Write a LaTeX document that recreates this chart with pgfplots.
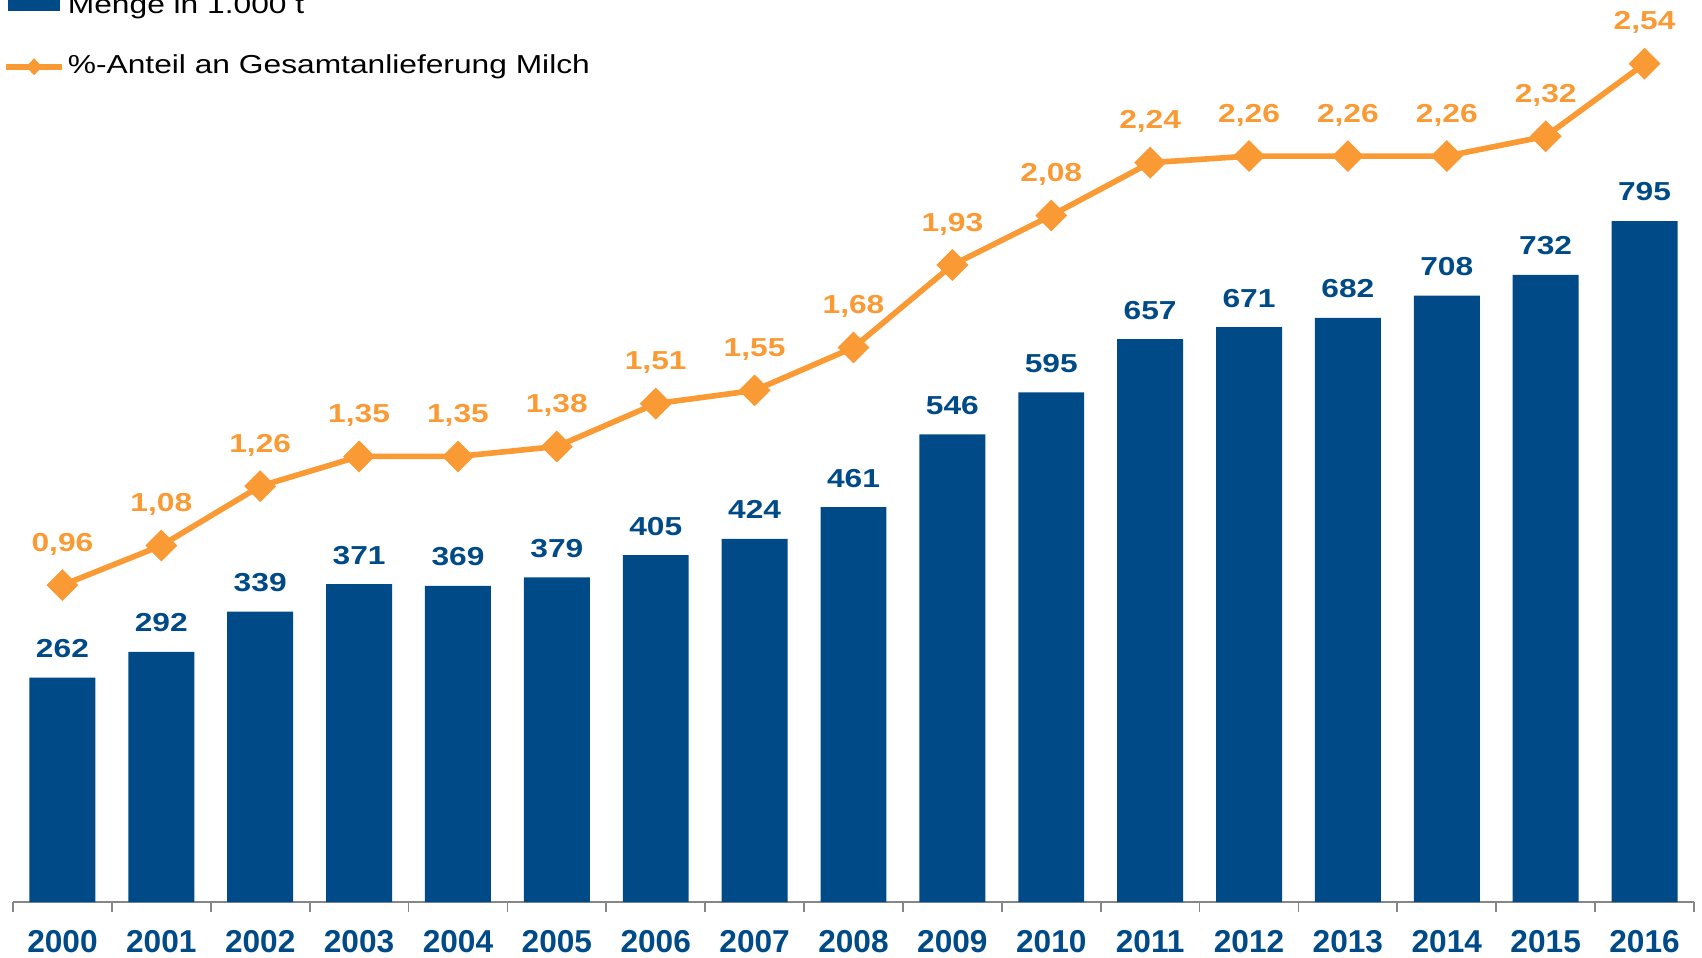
\documentclass[border=0pt]{standalone}
\usepackage{pgfplots}
\pgfplotsset{compat=1.18}
\usepackage{fontspec}
\setmainfont{Liberation Sans}
\newfontfamily\widesans[FakeStretch=1.22]{Liberation Sans}
\definecolor{mblue}{RGB}{0,75,135}
\definecolor{morange}{RGB}{249,154,52}
\definecolor{axgray}{RGB}{134,134,134}
\begin{document}
\begin{tikzpicture}
\begin{axis}[
  scale only axis, width=16.81cm, height=9.02cm,
  xmin=-0.5, xmax=16.5, ymin=0, ymax=1053,
  axis x line*=bottom, axis y line=none,
  x axis line style={draw=axgray, line width=0.5pt},
  xtick={0,1,2,3,4,5,6,7,8,9,10,11,12,13,14,15,16},
  xticklabels={2000,2001,2002,2003,2004,2005,2006,2007,2008,2009,2010,2011,2012,2013,2014,2015,2016},
  minor xtick={-0.5,0.5,1.5,2.5,3.5,4.5,5.5,6.5,7.5,8.5,9.5,10.5,11.5,12.5,13.5,14.5,15.5,16.5},
  major tick length=0pt, minor tick length=1mm,
  tick align=outside,
  major tick style={draw=none},
  minor tick style={draw=axgray, line width=0.5pt},
  xticklabel style={font=\bfseries\fontsize{9}{10}\selectfont, text=mblue, anchor=base, yshift=-14.4pt},
  ytick=\empty,
  clip=false,
  legend style={draw=none, fill=none, inner sep=0pt,
    at={(axis description cs:-0.0062,0.9096)}, anchor=south west,
    row sep=9.2pt, column sep=0.3mm,
    font=\widesans\fontsize{7.4}{9}\selectfont,
    nodes={inner sep=0pt, text height=6pt, text depth=2pt}},
  legend cell align=left,
]
\addplot[ybar, bar width=0.667, fill=mblue, draw=none,
  nodes near coords={\pgfmathprintnumber[assume math mode=true]{\pgfplotspointmeta}},
  every node near coord/.append style={font=\widesans\bfseries\fontsize{7.4}{9}\selectfont, text=mblue, anchor=base, yshift=5.7pt, inner sep=0pt},
  legend image code/.code={\fill[mblue] (0.2mm,-0.5mm) rectangle (5.4mm,2.5mm);}
] coordinates {
(0,262) (1,292) (2,339) (3,371) (4,369) (5,379) (6,405) (7,424) (8,461)
(9,546) (10,595) (11,657) (12,671) (13,682) (14,708) (15,732) (16,795)
};
\addlegendentry{Menge in 1.000 t}
\addlegendimage{legend image code/.code={
  \draw[morange, line width=1.6pt] (0mm,0mm) -- (5.6mm,0mm);
  \fill[morange] (2.8mm,0.75mm) -- (3.5mm,0mm) -- (2.8mm,-0.75mm) -- (2.1mm,0mm) -- cycle;}}
\addlegendentry{\%-Anteil an Gesamtanlieferung Milch}
\end{axis}
\begin{axis}[
  scale only axis, width=16.81cm, height=9.02cm,
  xmin=-0.5, xmax=16.5, ymin=0, ymax=2.733,
  hide axis, clip=false,
]
\addplot[morange, line width=1.6pt, mark=square*, mark size=2.4pt,
  mark options={rotate=45, solid, fill=morange, draw=none},
  nodes near coords={\pgfmathprintnumber[fixed, fixed zerofill, precision=2, use comma, assume math mode=true]{\pgfplotspointmeta}},
  every node near coord/.append style={font=\widesans\bfseries\fontsize{7.4}{9}\selectfont, text=morange, anchor=base, yshift=9.6pt, inner sep=0pt},
] coordinates {
(0,0.96) (1,1.08) (2,1.26) (3,1.35) (4,1.35) (5,1.38) (6,1.51) (7,1.55) (8,1.68)
(9,1.93) (10,2.08) (11,2.24) (12,2.26) (13,2.26) (14,2.26) (15,2.32) (16,2.54)
};
\end{axis}
\pgfresetboundingbox
\useasboundingbox (-0.13cm,-0.56cm) rectangle (16.89cm,9.02cm);
\end{tikzpicture}
\end{document}
